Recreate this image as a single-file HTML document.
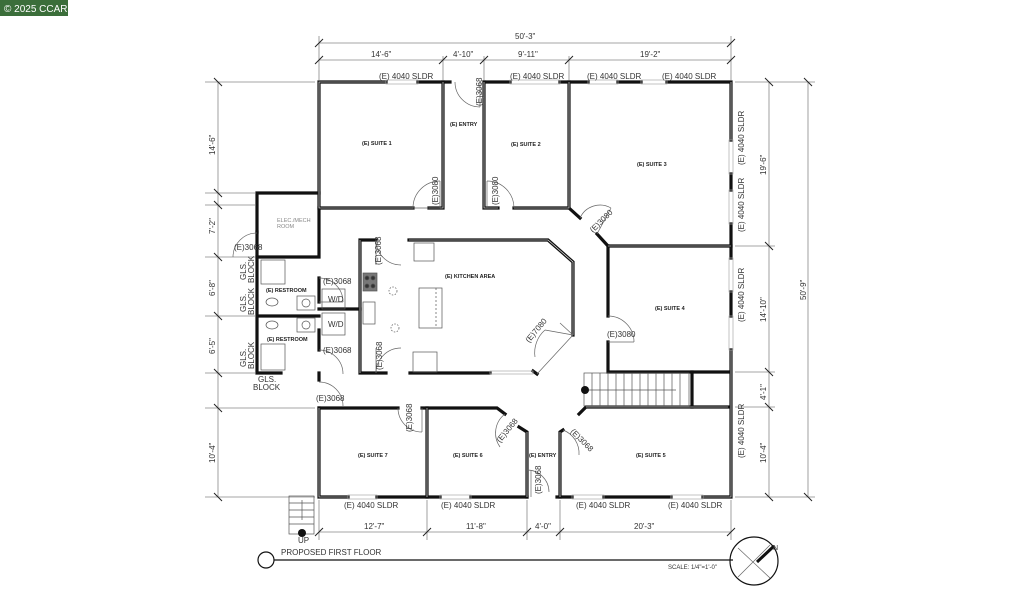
<!DOCTYPE html>
<html><head><meta charset="utf-8"><style>
html,body{margin:0;padding:0;background:#fff;}
svg{display:block;font-family:"Liberation Sans",sans-serif;}
.w{stroke:#111;stroke-width:3.2;fill:none;stroke-linecap:square}
.wi{stroke:#fff;stroke-width:0.6;fill:none}
.d{stroke:#888;stroke-width:0.8;fill:none}
.th{stroke:#aaa;stroke-width:0.7;fill:none}
.l{font-size:8px;fill:#333}
.s{font-size:5.5px;font-weight:bold;fill:#222}
</style></head><body>
<svg width="1024" height="608" viewBox="0 0 1024 608">
<rect width="1024" height="608" fill="#fff"/>
<rect x="0" y="0" width="68" height="16" fill="#3b6e3a"/>
<text x="4" y="12" font-size="10" fill="#fff">© 2025 CCAR</text>

<g class="d">
<line x1="319" y1="43" x2="731" y2="43"/>
<line x1="319" y1="60" x2="731" y2="60"/>
<line x1="319" y1="36" x2="319" y2="80"/><line x1="443" y1="56" x2="443" y2="80"/>
<line x1="484" y1="56" x2="484" y2="80"/><line x1="569" y1="56" x2="569" y2="80"/>
<line x1="731" y1="36" x2="731" y2="80"/>
<line x1="319" y1="532" x2="731" y2="532"/>
<line x1="319" y1="500" x2="319" y2="540"/><line x1="427" y1="500" x2="427" y2="540"/>
<line x1="527" y1="500" x2="527" y2="540"/><line x1="560" y1="500" x2="560" y2="540"/>
<line x1="731" y1="500" x2="731" y2="540"/>
<line x1="218" y1="82" x2="218" y2="497"/>
<line x1="205" y1="82" x2="315" y2="82"/><line x1="205" y1="193" x2="255" y2="193"/>
<line x1="205" y1="205" x2="255" y2="205"/><line x1="205" y1="257" x2="255" y2="257"/>
<line x1="205" y1="316" x2="255" y2="316"/><line x1="205" y1="373" x2="255" y2="373"/>
<line x1="205" y1="408" x2="315" y2="408"/><line x1="205" y1="497" x2="315" y2="497"/>
<line x1="769" y1="82" x2="769" y2="497"/><line x1="808" y1="82" x2="808" y2="497"/>
<line x1="735" y1="82" x2="815" y2="82"/><line x1="735" y1="246" x2="775" y2="246"/>
<line x1="735" y1="372" x2="775" y2="372"/><line x1="735" y1="407" x2="775" y2="407"/>
<line x1="735" y1="497" x2="815" y2="497"/>
</g>
<g stroke="#222" stroke-width="1">
<line x1="315" y1="47" x2="323" y2="39"/><line x1="727" y1="47" x2="735" y2="39"/>
<line x1="315" y1="64" x2="323" y2="56"/><line x1="439" y1="64" x2="447" y2="56"/><line x1="480" y1="64" x2="488" y2="56"/><line x1="565" y1="64" x2="573" y2="56"/><line x1="727" y1="64" x2="735" y2="56"/>
<line x1="315" y1="536" x2="323" y2="528"/><line x1="423" y1="536" x2="431" y2="528"/><line x1="523" y1="536" x2="531" y2="528"/><line x1="556" y1="536" x2="564" y2="528"/><line x1="727" y1="536" x2="735" y2="528"/>
<line x1="214" y1="78" x2="222" y2="86"/><line x1="214" y1="189" x2="222" y2="197"/><line x1="214" y1="201" x2="222" y2="209"/><line x1="214" y1="253" x2="222" y2="261"/><line x1="214" y1="312" x2="222" y2="320"/><line x1="214" y1="369" x2="222" y2="377"/><line x1="214" y1="404" x2="222" y2="412"/><line x1="214" y1="493" x2="222" y2="501"/>
<line x1="765" y1="78" x2="773" y2="86"/><line x1="765" y1="242" x2="773" y2="250"/><line x1="765" y1="368" x2="773" y2="376"/><line x1="765" y1="403" x2="773" y2="411"/><line x1="765" y1="493" x2="773" y2="501"/>
<line x1="804" y1="78" x2="812" y2="86"/><line x1="804" y1="493" x2="812" y2="501"/>
</g>
<g class="l">
<text x="515" y="39">50'-3"</text>
<text x="371" y="57">14'-6"</text><text x="453" y="57">4'-10"</text><text x="518" y="57">9'-11"</text><text x="640" y="57">19'-2"</text>
<text x="364" y="529">12'-7"</text><text x="466" y="529">11'-8"</text><text x="535" y="529">4'-0"</text><text x="634" y="529">20'-3"</text>
</g>
<g class="l">
<text transform="translate(215,155) rotate(-90)">14'-6"</text>
<text transform="translate(215,234) rotate(-90)">7'-2"</text>
<text transform="translate(215,296) rotate(-90)">6'-8"</text>
<text transform="translate(215,354) rotate(-90)">6'-5"</text>
<text transform="translate(215,463) rotate(-90)">10'-4"</text>
<text transform="translate(766,175) rotate(-90)">19'-6"</text>
<text transform="translate(766,322) rotate(-90)">14'-10"</text>
<text transform="translate(766,400) rotate(-90)">4'-1"</text>
<text transform="translate(766,463) rotate(-90)">10'-4"</text>
<text transform="translate(806,300) rotate(-90)">50'-9"</text>
</g>

<g class="w">
<polyline points="386,82 319,82 319,208 413,208"/>
<polyline points="418,82 450,82"/>
<polyline points="429,208 443,208 443,82"/>
<polyline points="484,82 510,82"/><polyline points="560,82 588,82"/>
<polyline points="484,82 484,208 498,208"/>
<polyline points="514,208 569,208 569,82"/>
<polyline points="618,82 641,82"/><polyline points="667,82 731,82 731,140"/>
<polyline points="731,174 731,190"/><polyline points="731,224 731,258"/><polyline points="731,292 731,316"/><polyline points="731,350 731,497 703,497"/>
<polyline points="569,208 580,218"/><polyline points="597,234 608,246 731,246"/>
<polyline points="608,246 608,316"/><polyline points="608,342 608,372 728,372"/>
<polyline points="319,208 319,257 257,257 257,232"/>
<polyline points="319,193 257,193 257,232"/>
<polyline points="257,257 257,373 281,373"/>
<polyline points="260,316 319,316"/>
<polyline points="319,278 319,302"/><polyline points="319,330 319,350"/>
<polyline points="319,373 319,380"/>
<polyline points="319,309 360,309"/>
<polyline points="376,240 360,240 360,373 386,373"/>
<polyline points="409,240 548,240 573,262 573,335"/>
<polyline points="410,373 490,373"/><polyline points="533,371 537,374"/>
<polyline points="319,408 319,497 348,497"/>
<polyline points="319,408 398,408"/>
<polyline points="377,497 440,497"/>
<polyline points="427,408 427,497"/>
<polyline points="422,408 497,408 505,414"/>
<polyline points="519,427 527,432 527,497"/><polyline points="471,497 527,497"/>
<polyline points="560,497 560,432 563,430"/><polyline points="557,497 572,497"/><polyline points="604,497 671,497"/>
<polyline points="579,414 586,407 728,407"/>
<polyline points="692,372 692,407"/>
</g>
<g class="wi">
<polyline points="386,82 319,82 319,208 413,208"/>
<polyline points="429,208 443,208 443,82"/>
<polyline points="484,82 484,208 498,208"/>
<polyline points="514,208 569,208 569,82"/>
<polyline points="731,82 731,140"/><polyline points="731,350 731,497 703,497"/>
<polyline points="608,246 731,246"/>
<polyline points="409,240 548,240 573,262 573,335"/>
<polyline points="319,408 319,497 348,497"/><polyline points="427,408 427,497"/><polyline points="527,432 527,497"/><polyline points="560,497 560,432"/>
<polyline points="586,407 728,407"/><polyline points="360,240 360,373"/>
</g>
<g class="th">
<rect x="386" y="80" width="32" height="4"/><rect x="510" y="80" width="50" height="4"/><rect x="588" y="80" width="30" height="4"/><rect x="641" y="80" width="26" height="4"/>
<rect x="729" y="140" width="4" height="34"/><rect x="729" y="190" width="4" height="34"/><rect x="729" y="258" width="4" height="34"/><rect x="729" y="316" width="4" height="34"/>
<rect x="348" y="495" width="29" height="4"/><rect x="440" y="495" width="31" height="4"/><rect x="572" y="495" width="32" height="4"/><rect x="671" y="495" width="32" height="4"/>
<rect x="490" y="371" width="43" height="3"/>
</g>
<g stroke="#666" stroke-width="0.7" fill="none">
<path d="M413,208 L440,208 M440,181 A27,27 0 0 0 413,208"/><line x1="440" y1="181" x2="440" y2="208"/>
<path d="M514,208 A27,27 0 0 0 487,181"/><line x1="487" y1="181" x2="487" y2="208"/>
<path d="M455,82 A25,25 0 0 0 480,107"/><line x1="480" y1="82" x2="480" y2="107"/>
<path d="M580,218 A22,22 0 0 1 611,208"/><line x1="597" y1="234" x2="611" y2="208"/>
<path d="M608,316 A26,26 0 0 1 634,342"/><line x1="608" y1="342" x2="634" y2="342"/>
<path d="M233,257 A24,24 0 0 1 257,233"/>
<path d="M319,278 A24,24 0 0 1 343,302"/><line x1="319" y1="302" x2="343" y2="302"/>
<path d="M319,350 A24,24 0 0 1 343,374"/>
<path d="M319,382 A24,24 0 0 1 343,406"/>
<path d="M376,240 A25,25 0 0 0 401,265"/><line x1="376" y1="240" x2="376" y2="265"/>
<path d="M376,373 A25,25 0 0 1 401,348"/><line x1="376" y1="348" x2="376" y2="373"/>
<path d="M398,408 A24,24 0 0 0 422,432"/><line x1="422" y1="408" x2="422" y2="432"/>
<path d="M505,414 A24,24 0 0 0 500,447"/>
<path d="M527,470 A22,22 0 0 1 549,492"/><line x1="531" y1="470" x2="531" y2="497"/>
<path d="M563,430 A25,25 0 0 1 579,455"/>
<path d="M573,335 L545,330 M573,335 L537,374 M545,330 A30,30 0 0 0 535,357"/>
<path d="M573,335 L560,323"/>
</g>
<g stroke="#555" stroke-width="0.7" fill="none">
<rect x="261" y="260" width="24" height="24"/><rect x="261" y="344" width="24" height="26"/>
<ellipse cx="272" cy="302" rx="6" ry="4"/><ellipse cx="272" cy="325" rx="6" ry="4"/>
<rect x="297" y="296" width="18" height="14"/><circle cx="306" cy="303" r="4"/>
<rect x="297" y="318" width="18" height="14"/><circle cx="306" cy="325" r="4"/>
<rect x="322" y="289" width="23" height="20"/><rect x="322" y="313" width="23" height="22"/>
<rect x="363" y="273" width="14" height="18" fill="#777"/>
<circle cx="367" cy="278" r="2" fill="#333"/><circle cx="373" cy="278" r="2" fill="#333"/><circle cx="367" cy="286" r="2" fill="#333"/><circle cx="373" cy="286" r="2" fill="#333"/>
<rect x="363" y="302" width="12" height="22"/>
<rect x="419" y="288" width="23" height="40"/><line x1="436" y1="288" x2="436" y2="328" stroke-dasharray="2,2"/>
<circle cx="393" cy="291" r="4" stroke-dasharray="1.5,1.5"/><circle cx="395" cy="328" r="4" stroke-dasharray="1.5,1.5"/>
<rect x="414" y="243" width="20" height="18"/><rect x="413" y="352" width="24" height="20"/>
<rect x="584" y="373" width="105" height="33"/>
<path d="M592,373v33M600,373v33M608,373v33M616,373v33M624,373v33M632,373v33M640,373v33M648,373v33M656,373v33M664,373v33M672,373v33M680,373v33"/>
<line x1="584" y1="390" x2="676" y2="390"/>
<rect x="289" y="496" width="25" height="38"/><path d="M289,503h25M289,510h25M289,517h25M289,524h25M302,520v-20"/>
</g>
<circle cx="585" cy="390" r="4" fill="#111"/>
<circle cx="302" cy="533" r="4" fill="#111"/>
<g class="s">
<text x="362" y="145">(E) SUITE 1</text><text x="450" y="126">(E) ENTRY</text><text x="511" y="146">(E) SUITE 2</text>
<text x="637" y="166">(E) SUITE 3</text><text x="655" y="310">(E) SUITE 4</text><text x="445" y="278">(E) KITCHEN AREA</text>
<text x="266" y="292">(E) RESTROOM</text><text x="267" y="341">(E) RESTROOM</text>
<text x="358" y="457">(E) SUITE 7</text><text x="453" y="457">(E) SUITE 6</text><text x="529" y="457">(E) ENTRY</text><text x="636" y="457">(E) SUITE 5</text>
</g>
<g class="l">
<text x="379" y="79">(E) 4040 SLDR</text><text x="510" y="79">(E) 4040 SLDR</text><text x="587" y="79">(E) 4040 SLDR</text><text x="662" y="79">(E) 4040 SLDR</text>
<text x="344" y="508">(E) 4040 SLDR</text><text x="441" y="508">(E) 4040 SLDR</text><text x="576" y="508">(E) 4040 SLDR</text><text x="668" y="508">(E) 4040 SLDR</text>
<text x="234" y="250">(E)3068</text><text x="323" y="284">(E)3068</text><text x="323" y="353">(E)3068</text><text x="316" y="401">(E)3068</text><text x="607" y="337">(E)3080</text>
<text x="328" y="302">W/D</text><text x="328" y="327">W/D</text>
<text x="258" y="382">GLS.</text><text x="253" y="390">BLOCK</text>
<text x="298" y="543">UP</text>
<text x="281" y="555">PROPOSED FIRST FLOOR</text>
<text x="668" y="569" font-size="6">SCALE:   1/4"=1'-0"</text>
</g>
<g class="l" font-size="7">
<text transform="translate(744,165) rotate(-90)">(E) 4040 SLDR</text>
<text transform="translate(744,232) rotate(-90)">(E) 4040 SLDR</text>
<text transform="translate(744,322) rotate(-90)">(E) 4040 SLDR</text>
<text transform="translate(744,458) rotate(-90)">(E) 4040 SLDR</text>
<text transform="translate(246,280) rotate(-90)">GLS.</text><text transform="translate(254,283) rotate(-90)">BLOCK</text>
<text transform="translate(246,312) rotate(-90)">GLS.</text><text transform="translate(254,315) rotate(-90)">BLOCK</text>
<text transform="translate(246,367) rotate(-90)">GLS.</text><text transform="translate(254,369) rotate(-90)">BLOCK</text>
<text transform="translate(438,205) rotate(-90)">(E)3080</text>
<text transform="translate(498,205) rotate(-90)">(E)3080</text>
<text transform="translate(482,106) rotate(-90)">(E)3068</text>
<text transform="translate(381,265) rotate(-90)">(E)3068</text>
<text transform="translate(382,370) rotate(-90)">(E)3068</text>
<text transform="translate(412,432) rotate(-90)">(E)3068</text>
<text transform="translate(541,494) rotate(-90)">(E)3068</text>
<text transform="translate(593,233) rotate(-45)">(E)3080</text>
<text transform="translate(529,343) rotate(-50)">(E)7080</text>
<text transform="translate(500,443) rotate(-50)">(E)3068</text>
<text transform="translate(570,432) rotate(45)">(E)3068</text>
</g>
<text x="277" y="222" font-size="5.5" fill="#888">ELEC./MECH</text>
<text x="277" y="228" font-size="5.5" fill="#888">ROOM</text>
<circle cx="266" cy="560" r="8" fill="none" stroke="#111" stroke-width="1.2"/>
<line x1="274" y1="560" x2="733" y2="560" stroke="#111" stroke-width="1.2"/>
<circle cx="754" cy="561" r="24" fill="none" stroke="#111" stroke-width="1.2"/>
<line x1="738" y1="548" x2="770" y2="578" stroke="#666" stroke-width="0.7"/>
<line x1="738" y1="577" x2="770" y2="545" stroke="#666" stroke-width="0.7"/>
<line x1="757" y1="562" x2="774" y2="546" stroke="#111" stroke-width="3"/>
<text x="773" y="550" font-size="7" fill="#333">N</text>
</svg>
</body></html>
